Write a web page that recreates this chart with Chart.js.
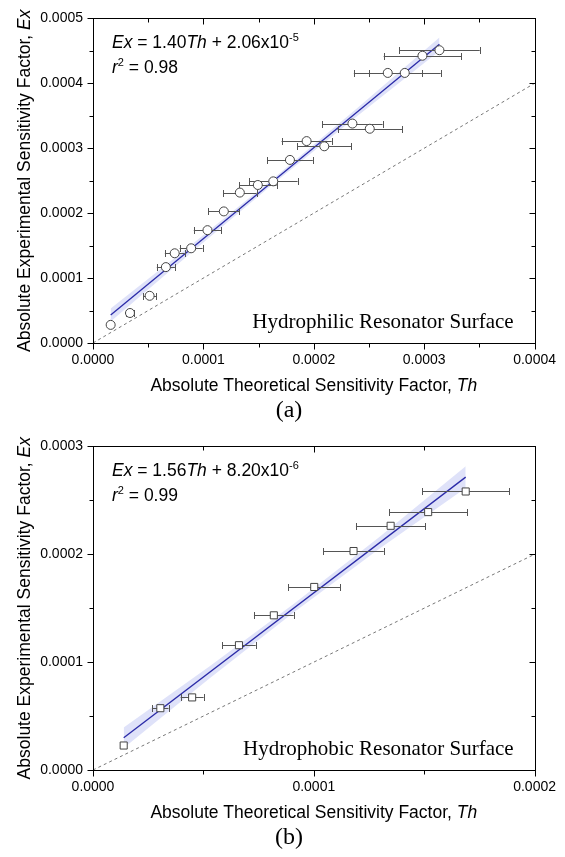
<!DOCTYPE html>
<html>
<head>
<meta charset="utf-8">
<script src="https://cdn.jsdelivr.net/npm/chart.js@4.4.0/dist/chart.umd.min.js"></script>
<style>
  body { margin: 0; background: #fff; }
  canvas { display: block; }
</style>
</head>
<body>
<canvas id="chartA" width="565" height="428"></canvas>
<canvas id="chartB" width="565" height="429"></canvas>
<script>
// (a) hydrophilic resonator surface
const thA = [0.0000160, 0.0000335, 0.0000513, 0.0000660, 0.0000740, 0.0000889, 0.0001037, 0.0001185, 0.0001330, 0.0001493,
             0.0001633, 0.0001784, 0.0001935, 0.0002095, 0.0002350, 0.0002507, 0.0002670, 0.0002824, 0.0002984, 0.0003138];
const exA = [0.0000279, 0.0000462, 0.0000727, 0.0001169, 0.0001382, 0.0001459, 0.0001738, 0.0002027, 0.0002317, 0.0002434,
             0.0002490, 0.0002820, 0.0003110, 0.0003030, 0.0003380, 0.0003300, 0.0004160, 0.0004160, 0.0004425, 0.0004510];
const errA = [0, 0.0000040, 0.0000060, 0.0000082, 0.0000089, 0.0000104, 0.0000124, 0.0000140, 0.0000152, 0.0000170,
              0.0000220, 0.0000207, 0.0000227, 0.0000243, 0.0000273, 0.0000292, 0.0000307, 0.0000326, 0.0000351, 0.0000365];
const fitThA = [0.0000160, 0.0003138];
const fitExA = [0.0000430, 0.0004600];
const bandThA = [0.0000160, 0.0000900, 0.0001650, 0.0002400, 0.0003138];
const bandHiA = [0.0000530, 0.0001526, 0.0002556, 0.0003626, 0.0004707];
const bandLoA = [0.0000330, 0.0001406, 0.0002476, 0.0003506, 0.0004497];
const xTicksA = [0, 0.0001, 0.0002, 0.0003, 0.0004];
const yTicksA = [0, 0.0001, 0.0002, 0.0003, 0.0004, 0.0005];

// (b) hydrophobic resonator surface
const thB = [0.0000139, 0.0000305, 0.0000449, 0.0000661, 0.0000819, 0.0001002, 0.0001180, 0.0001348, 0.0001518, 0.0001688];
const exB = [0.0000227, 0.0000573, 0.0000673, 0.0001157, 0.0001434, 0.0001697, 0.0002030, 0.0002264, 0.0002391, 0.0002582];
const errB = [0, 0.0000037, 0.0000052, 0.0000076, 0.0000090, 0.0000118, 0.0000137, 0.0000157, 0.0000177, 0.0000197];
const fitThB = [0.0000139, 0.0001688];
const fitExB = [0.0000299, 0.0002715];
const bandThB = [0.0000139, 0.0000530, 0.0000910, 0.0001300, 0.0001688];
const bandHiB = [0.0000394, 0.0000964, 0.0001542, 0.0002165, 0.0002815];
const bandLoB = [0.0000204, 0.0000854, 0.0001462, 0.0002055, 0.0002615];
const xTicksB = [0, 0.0001, 0.0002];
const yTicksB = [0, 0.0001, 0.0002, 0.0003];

const SANS = '"Liberation Sans", Arial, sans-serif';
const SERIF = '"Liberation Serif", "Times New Roman", serif';

function partFont(p, size, family) {
  const s = p.sup ? Math.round(size * 0.62) : size;
  return (p.i ? 'italic ' : '') + s + 'px ' + family;
}

function drawRich(ctx, parts, x, y, size, family, align) {
  let w = 0;
  parts.forEach(p => { ctx.font = partFont(p, size, family); w += ctx.measureText(p.t).width; });
  let cx = align === 'center' ? x - w / 2 : x;
  ctx.textAlign = 'left';
  parts.forEach(p => {
    ctx.font = partFont(p, size, family);
    ctx.fillText(p.t, cx, p.sup ? y - size * 0.42 : y);
    cx += ctx.measureText(p.t).width;
  });
}

const errorBars = {
  id: 'errorBars',
  beforeDatasetDraw(chart, args, opts) {
    if (args.index !== 0) return;
    const ctx = chart.ctx, xs = chart.scales.x, ys = chart.scales.y;
    ctx.save();
    ctx.strokeStyle = '#555';
    ctx.lineWidth = 1;
    opts.th.forEach((t, i) => {
      const e = opts.err[i];
      if (!e) return;
      const y = Math.round(ys.getPixelForValue(opts.ex[i])) + 0.5;
      const x1 = xs.getPixelForValue(t - e), x2 = xs.getPixelForValue(t + e);
      ctx.beginPath();
      ctx.moveTo(x1, y); ctx.lineTo(x2, y);
      ctx.moveTo(Math.round(x1) + 0.5, y - 3.5); ctx.lineTo(Math.round(x1) + 0.5, y + 3.5);
      ctx.moveTo(Math.round(x2) + 0.5, y - 3.5); ctx.lineTo(Math.round(x2) + 0.5, y + 3.5);
      ctx.stroke();
    });
    ctx.restore();
  }
};

const frame = {
  id: 'frame',
  afterDraw(chart, args, opts) {
    const ctx = chart.ctx, a = chart.chartArea, xs = chart.scales.x, ys = chart.scales.y;
    const L = Math.round(a.left) + 0.5, R = Math.round(a.right) + 0.5;
    const T = Math.round(a.top) + 0.5, B = Math.round(a.bottom) + 0.5;
    ctx.save();
    ctx.strokeStyle = '#000';
    ctx.lineWidth = 1;
    ctx.strokeRect(L, T, R - L, B - T);
    ctx.beginPath();
    const xt = opts.xTicks, yt = opts.yTicks;
    for (let i = 0; i < xt.length; i++) {
      const ticks = [[xt[i], 6]];
      if (i < xt.length - 1) ticks.push([(xt[i] + xt[i + 1]) / 2, 4]);
      ticks.forEach(([v, len]) => {
        const x = Math.round(xs.getPixelForValue(v)) + 0.5;
        ctx.moveTo(x, B); ctx.lineTo(x, B + len);
        ctx.moveTo(x, T); ctx.lineTo(x, T + len);
      });
    }
    for (let i = 0; i < yt.length; i++) {
      const ticks = [[yt[i], 6]];
      if (i < yt.length - 1) ticks.push([(yt[i] + yt[i + 1]) / 2, 4]);
      ticks.forEach(([v, len]) => {
        const y = Math.round(ys.getPixelForValue(v)) + 0.5;
        ctx.moveTo(L, y); ctx.lineTo(L - len, y);
        ctx.moveTo(R, y); ctx.lineTo(R - len, y);
      });
    }
    ctx.stroke();

    ctx.fillStyle = '#000';
    ctx.textBaseline = 'alphabetic';
    drawRich(ctx, opts.eq, a.left + 19, a.top + 30, 17.5, SANS, 'left');
    drawRich(ctx, opts.r2, a.left + 19, a.top + 55, 17.5, SANS, 'left');

    ctx.font = '21px ' + SERIF;
    ctx.textAlign = 'right';
    ctx.fillText(opts.surface, a.right - 21, a.bottom - 15);

    ctx.textBaseline = 'middle';
    drawRich(ctx, [{ t: 'Absolute Theoretical Sensitivity Factor, ' }, { t: 'Th', i: true }],
      (a.left + a.right) / 2, a.bottom + 43, 17.5, SANS, 'center');

    ctx.save();
    ctx.translate(25, (a.top + a.bottom) / 2);
    ctx.rotate(-Math.PI / 2);
    drawRich(ctx, [{ t: 'Absolute Experimental Sensitivity Factor, ' }, { t: 'Ex', i: true }],
      0, 0, 17.5, SANS, 'center');
    ctx.restore();

    ctx.font = '24px ' + SERIF;
    ctx.textAlign = 'center';
    ctx.fillText(opts.caption, 289, a.bottom + 68);
    ctx.restore();
  }
};

function makeChart(id, c) {
  const pts = c.th.map((t, i) => ({ x: t, y: c.ex[i] }));
  const fit = c.fitTh.map((t, i) => ({ x: t, y: c.fitEx[i] }));
  const hi = c.bandTh.map((t, i) => ({ x: t, y: c.bandHi[i] }));
  const lo = c.bandTh.map((t, i) => ({ x: t, y: c.bandLo[i] }));
  const xMax = c.xTicks[c.xTicks.length - 1];
  const yMax = c.yTicks[c.yTicks.length - 1];
  const idLine = [{ x: 0, y: 0 }, { x: xMax, y: xMax }];
  const tickFont = { family: SANS, size: 14 };
  return new Chart(document.getElementById(id), {
    type: 'scatter',
    data: {
      datasets: [
        { data: pts, pointStyle: c.marker, pointRadius: c.markerSize, pointHoverRadius: c.markerSize,
          backgroundColor: '#fff', borderColor: '#444', borderWidth: 1 },
        { data: fit, showLine: true, pointRadius: 0, borderColor: '#2b2ba8', borderWidth: 1.3 },
        { data: idLine, showLine: true, pointRadius: 0, borderColor: '#777', borderWidth: 1, borderDash: [3, 3] },
        { data: hi, showLine: true, pointRadius: 0, borderWidth: 0, borderColor: 'rgba(0,0,0,0)',
          backgroundColor: 'rgba(150,160,235,0.3)', fill: '+1' },
        { data: lo, showLine: true, pointRadius: 0, borderWidth: 0, borderColor: 'rgba(0,0,0,0)' }
      ]
    },
    options: {
      responsive: false,
      animation: false,
      layout: { padding: { top: c.padTop, right: 22, left: 0, bottom: 0 } },
      plugins: {
        legend: { display: false },
        tooltip: { enabled: false },
        errorBars: { th: c.th, ex: c.ex, err: c.err },
        frame: { xTicks: c.xTicks, yTicks: c.yTicks, eq: c.eq, r2: c.r2, surface: c.surface, caption: c.caption }
      },
      scales: {
        x: {
          type: 'linear', min: 0, max: xMax,
          grid: { display: false, drawTicks: false },
          border: { display: false },
          afterBuildTicks: s => { s.ticks = c.xTicks.map(v => ({ value: v })); },
          afterFit: s => { s.height = c.xHeight; },
          ticks: { font: tickFont, color: '#000', padding: 9, autoSkip: false, maxRotation: 0,
            callback: v => v.toFixed(4) }
        },
        y: {
          type: 'linear', min: 0, max: yMax,
          grid: { display: false, drawTicks: false },
          border: { display: false },
          afterBuildTicks: s => { s.ticks = c.yTicks.map(v => ({ value: v })); },
          afterFit: s => { s.width = 93; },
          ticks: { font: tickFont, color: '#000', padding: 10, autoSkip: false,
            callback: v => v.toFixed(4) }
        }
      }
    },
    plugins: [errorBars, frame]
  });
}

makeChart('chartA', {
  th: thA, ex: exA, err: errA, fitTh: fitThA, fitEx: fitExA,
  bandTh: bandThA, bandHi: bandHiA, bandLo: bandLoA,
  xTicks: xTicksA, yTicks: yTicksA, padTop: 15, xHeight: 85,
  marker: 'circle', markerSize: 4.5,
  eq: [{ t: 'Ex', i: true }, { t: ' = 1.40' }, { t: 'Th', i: true }, { t: ' + 2.06x10' }, { t: '-5', sup: true }],
  r2: [{ t: 'r', i: true }, { t: '2', sup: true }, { t: ' = 0.98' }],
  surface: 'Hydrophilic Resonator Surface', caption: '(a)'
});

makeChart('chartB', {
  th: thB, ex: exB, err: errB, fitTh: fitThB, fitEx: fitExB,
  bandTh: bandThB, bandHi: bandHiB, bandLo: bandLoB,
  xTicks: xTicksB, yTicks: yTicksB, padTop: 12, xHeight: 87,
  marker: 'rect', markerSize: 5,
  eq: [{ t: 'Ex', i: true }, { t: ' = 1.56' }, { t: 'Th', i: true }, { t: ' + 8.20x10' }, { t: '-6', sup: true }],
  r2: [{ t: 'r', i: true }, { t: '2', sup: true }, { t: ' = 0.99' }],
  surface: 'Hydrophobic Resonator Surface', caption: '(b)'
});
</script>
</body>
</html>
